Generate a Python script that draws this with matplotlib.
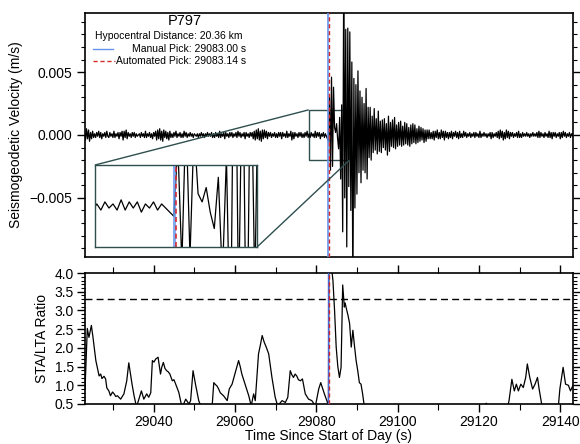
import numpy as np
import matplotlib
matplotlib.use('Agg')
import matplotlib.pyplot as plt
from matplotlib.ticker import MultipleLocator, FuncFormatter
from mpl_toolkits.axes_grid1.inset_locator import mark_inset

plt.rcParams['font.family'] = ['Liberation Sans', 'DejaVu Sans']

station = 'P797'
hypo_dist_km = 20.36
manual_pick = 29083.00
auto_pick = 29083.14
threshold = 3.3

# velocity trace, sampled every 0.25 s from t0, values in 1e-4 m/s
t0 = 29023.0
dt = 0.25
vel_pre = [
    3, -4, 5, -3, 4, -5, 2, -3, 3, -2, 1, -2, 2, -1, 3, -2, 2, -3, 1, -1, 2, -2, 3, -1,
    -2, 2, -1, 1, -2, 3, -2, 1, -1, 2, -3, 2, -1, 3, -4, 3, -2, 4, -3, 2, -1, 1, -2, 2,
    -1, 2, -2, 1, -1, 0, 1, -2, 2, -1, 1, -2, 3, -2, 1, -1, 2, -2, 1, -3, 2, -1, 3, -4,
    4, -3, 5, -4, 3, -5, 4, -2, 3, -3, 2, -4, 3, -2, 1, -2, 2, -1, 3, -2, 1, -1, 2, -2,
    1, -2, 3, -1, 2, -2, 1, -1, 2, -1, 1, -2, 1, 0, -1, 1, -2, 1, -1, 2, -1, 1, -2, 1,
    -1, 2, -1, 1, -1, 2, -2, 1, -2, 2, -1, 1, -2, 3, -2, 1, -1, 2, -3, 2, -1, 1, -2, 2,
    -1, 2, -2, 1, -1, 2, -2, 3, -1, 2, -2, 1, -1, 2, -3, 2, -1, 1, -2, 2, -1, 2, -3, 3,
    -4, 4, -3, 5, -4, 3, -5, 4, -3, 4, -2, 3, -3, 2, -1, 2, -2, 1, -1, 2, -2, 1, -2, 2,
    -1, 2, -3, 2, -1, 1, -2, 3, -2, 1, -1, 3, -4, 2, -3, 2, -1, 1, -2, 2, -1, 2, -2, 1,
    -2, 2, -1, 3, -2, 1, -2, 2, -1, 1, -2, 3, -2, 2, -1, 2, -3, 1, -1, 2, -2, 1, -1, -3,
]
vel_post = [
    -5, 30, -28, 46, -25, 38, 6, 2, 9, -3, -11, 14, -35, 24, -77, 130, -50, 84, -89, 85, -41, 82, -60, 58,
    -130, 45, -58, 40, -47, 51, -30, 35, -38, 30, -28, 25, -30, 37, -35, 22, -18, 22, -20, 15, -14, 21, -12, 13,
    -15, 19, -13, 11, -14, 12, -10, 13, -12, 9, -16, 15, -13, 10, -9, 12, -10, 14, -11, 8, -9, 10, -8, 11,
    -9, 7, -8, 10, -7, 9, -8, 6, -9, 8, -7, 9, -6, 8, -7, 5, -6, 7, -5, 6, -4, 5, -6, 4,
    -5, 4, -3, 4, -3, 2, -3, 3, -4, 3, -2, 4, -3, 2, -3, 4, -2, 3, -4, 3, -2, 2, -3, 2,
    -2, 3, -3, 2, -1, 3, -2, 2, -3, 3, -2, 1, -2, 3, -1, 2, -2, 1, -1, 2, -2, 1, -1, 2,
    -2, 2, -1, 1, -2, 3, -2, 1, -1, 2, -1, 1, -2, 1, -1, 2, -3, 2, -2, 1, -1, 2, -2, 3,
    -3, 4, -2, 3, -4, 2, -3, 4, -2, 3, -3, 2, -1, 2, -2, 1, -1, 2, -2, 3, -2, 1, -2, 2,
    -1, 1, -1, 2, -1, 1, -2, 1, -1, 2, -1, 1, -1, 2, -2, 3, -2, 2, -1, 1, -2, 2, -1, 1,
    -2, 3, -2, 2, -3, 2, -1, 2, -2, 1, -1, 2, -3, 2, -2, 3, -1, 2, -2, 1, -1, 2, -2, 1, -1, 2,
]

# STA/LTA ratio
sta_t = [29023.14, 29023.39, 29023.7, 29024.1, 29024.7, 29025.1, 29025.8, 29026.6, 29027.0,
         29027.3, 29027.8, 29028.2, 29028.5, 29029.0, 29029.4, 29029.9, 29030.3, 29030.7,
         29031.1, 29031.9, 29032.3, 29032.7, 29033.4, 29033.9, 29034.7, 29035.2, 29035.8,
         29036.4, 29037.0, 29037.6, 29038.3, 29038.8, 29039.3, 29039.7, 29040.1, 29040.5,
         29041.1, 29041.7, 29042.0, 29042.4, 29042.8, 29043.2, 29043.6, 29044.0, 29044.6,
         29045.0, 29045.4, 29046.2, 29047.0, 29047.9, 29048.7, 29049.1, 29049.7, 29050.3,
         29051.1, 29051.6, 29052.5, 29053.5, 29054.4, 29054.8, 29055.2, 29055.6, 29056.0,
         29056.4, 29057.2, 29058.1, 29058.6, 29059.3, 29060.1, 29060.9, 29061.3, 29061.7,
         29062.6, 29063.4, 29064.0, 29064.6, 29065.0, 29065.8, 29066.3, 29066.7, 29067.2,
         29067.7, 29068.3, 29069.1, 29069.9, 29070.5, 29071.6, 29072.4, 29073.0, 29073.6,
         29074.0, 29074.4, 29074.8, 29075.2, 29075.6, 29076.1, 29076.6, 29077.3, 29078.1,
         29078.9, 29079.8, 29080.6, 29081.1, 29082.0, 29082.6, 29083.0, 29083.1, 29083.4,
         29083.7, 29084.1, 29084.5, 29084.9, 29085.3, 29085.7, 29086.1, 29086.5, 29086.9,
         29087.1, 29087.4, 29087.8, 29088.2, 29088.6, 29089.0, 29089.4, 29089.8, 29090.2,
         29090.6, 29091.0, 29091.4, 29091.8, 29093.0, 29110.0, 29121.4, 29121.8, 29122.2,
         29126.8, 29127.4, 29128.1, 29128.7, 29129.2, 29129.7, 29130.3, 29130.9, 29131.5,
         29131.9, 29132.5, 29133.2, 29133.8, 29134.4, 29134.8, 29135.5, 29137.0, 29139.5,
         29139.9, 29140.7, 29141.3, 29142.0, 29142.5, 29143.14]
sta_v = [0.90, 1.60, 2.52, 2.28, 2.60, 2.28, 1.66, 1.25, 1.30,
         1.18, 1.24, 1.17, 0.93, 0.85, 0.72, 0.82, 0.77, 0.70,
         0.72, 0.63, 0.70, 0.77, 1.12, 1.60, 1.03, 0.72, 0.42,
         0.63, 0.85, 0.63, 0.77, 0.68, 0.80, 1.66, 1.62, 1.70,
         1.75, 1.30, 1.48, 1.61, 1.45, 1.39, 1.36, 1.30, 1.12,
         1.15, 1.04, 0.81, 0.40, 0.63, 0.50, 0.59, 1.39, 1.03,
         0.59, 0.45, 0.30, 0.30, 0.45, 1.07, 1.02, 0.98, 0.90,
         0.80, 0.72, 0.59, 0.90, 1.03, 1.34, 1.66, 1.50, 1.30,
         0.99, 0.72, 0.45, 0.77, 0.59, 1.84, 2.10, 2.33, 2.15,
         2.02, 1.84, 1.21, 0.68, 0.45, 0.59, 0.54, 0.68, 1.39,
         1.28, 1.21, 1.30, 1.25, 1.15, 1.12, 1.17, 0.77, 0.63,
         0.59, 0.45, 0.90, 1.07, 0.77, 0.59, 0.45, 4.30, 4.40,
         4.20, 3.80, 3.00, 2.02, 1.50, 1.21, 1.48, 3.68, 3.09,
         3.20, 3.05, 2.87, 2.65, 2.02, 2.47, 2.05, 1.66, 1.39,
         1.07, 1.03, 0.77, 0.45, 0.30, 0.30, 0.46, 0.52, 0.46,
         0.30, 0.59, 1.16, 0.85, 1.03, 0.85, 1.03, 0.94, 1.21,
         1.57, 1.21, 0.90, 1.03, 1.21, 0.90, 0.45, 0.30, 0.40,
         0.90, 1.48, 1.03, 1.00, 0.85, 1.00]

vel = np.array(vel_pre + vel_post) * 1e-4
t = t0 + dt * np.arange(len(vel))

manual_color = 'cornflowerblue'
auto_color = '#d42a2a'
box_color = 'darkslategray'
xlim = (auto_pick - 60, auto_pick + 60)

fig = plt.figure(figsize=(5.8, 4.44), dpi=100)
ax1 = fig.add_axes([0.1466, 0.4212, 0.8414, 0.5495])
ax2 = fig.add_axes([0.1466, 0.0901, 0.8414, 0.295])

# top panel: waveform
ax1.plot(t, vel, color='k', lw=0.9)
ax1.axvline(manual_pick, color=manual_color, lw=1.2, zorder=3)
ax1.axvline(auto_pick, color=auto_color, lw=1.0, ls=(0, (3, 2)), zorder=4)
ax1.set_xlim(xlim)
ax1.set_ylim(-0.0097, 0.0097)
ax1.set_ylabel('Seismogeodetic Velocity (m/s)', fontsize=10)
ax1.yaxis.set_major_locator(MultipleLocator(0.005))
ax1.yaxis.set_minor_locator(MultipleLocator(0.001))
ax1.yaxis.set_major_formatter(FuncFormatter(lambda v, p: f'{v:.3f}'.replace('-', '\u2212')))
ax1.tick_params(axis='x', which='both', bottom=False, top=False, labelbottom=False)
ax1.tick_params(axis='y', which='both', direction='out', left=True, right=True,
                labelsize=10)
ax1.tick_params(axis='y', which='major', length=6, width=1)
ax1.tick_params(axis='y', which='minor', length=3, width=0.8)

ax1.text(0.205, 0.967, station, transform=ax1.transAxes, ha='center', va='center',
         fontsize=10.5)
ax1.text(0.172, 0.906, f'Hypocentral Distance: {hypo_dist_km:.2f} km',
         transform=ax1.transAxes, ha='center', va='center', fontsize=7.5)
ax1.text(0.33, 0.852, f'Manual Pick: {manual_pick:.2f} s', transform=ax1.transAxes,
         ha='right', va='center', fontsize=7.5)
ax1.text(0.33, 0.803, f'Automated Pick: {auto_pick:.2f} s', transform=ax1.transAxes,
         ha='right', va='center', fontsize=7.5)
ax1.plot([0.016, 0.057], [0.852, 0.852], transform=ax1.transAxes, color=manual_color,
         lw=1.0)
ax1.plot([0.016, 0.061], [0.803, 0.803], transform=ax1.transAxes, color=auto_color,
         lw=1.0, ls=(0, (3, 2)))

# zoom inset around the pick
axins = ax1.inset_axes([0.0205, 0.041, 0.332, 0.336])
axins.plot(t, vel, color='k', lw=0.9)
axins.axvline(manual_pick, color=manual_color, lw=2.2, alpha=0.8)
axins.axvline(auto_pick, color=auto_color, lw=1.2, ls=(0, (3, 2)))
axins.set_xlim(auto_pick - 5, auto_pick + 5)
axins.set_ylim(-0.002, 0.002)
axins.set_xticks([])
axins.set_yticks([])
for s in axins.spines.values():
    s.set_edgecolor(box_color)
    s.set_linewidth(1.0)
mark_inset(ax1, axins, loc1=2, loc2=4, fc='none', ec=box_color, lw=1.0)

# bottom panel: STA/LTA
ax2.plot(sta_t, sta_v, color='k', lw=0.9)
ax2.axhline(threshold, color='k', lw=1.0, ls=(0, (5, 3)))
ax2.axvline(manual_pick, color='royalblue', lw=1.0, zorder=3)
ax2.axvline(auto_pick, color=auto_color, lw=1.0, ls=(0, (3, 2)), zorder=4)
ax2.set_xlim(xlim)
ax2.set_ylim(0.5, 4.0)
ax2.set_ylabel('STA/LTA Ratio', fontsize=10)
ax2.xaxis.set_major_locator(MultipleLocator(20))
ax2.xaxis.set_minor_locator(MultipleLocator(10))
ax2.xaxis.set_major_formatter(FuncFormatter(lambda v, p: f'{v:.0f}'))
ax2.yaxis.set_major_locator(MultipleLocator(0.5))
ax2.yaxis.set_minor_locator(MultipleLocator(0.1))
ax2.yaxis.set_major_formatter(FuncFormatter(lambda v, p: f'{v:.1f}'))
ax2.tick_params(which='both', direction='out', top=True, right=True, labelsize=10,
                pad=2)
ax2.tick_params(which='major', length=6, width=1)
ax2.tick_params(which='minor', length=3, width=0.8)
ax2.tick_params(axis='x', which='minor', length=4)
fig.text(0.567, 1 - 436 / 444, 'Time Since Start of Day (s)', ha='center',
         va='center', fontsize=10)

for a in (ax1, ax2):
    for s in a.spines.values():
        s.set_linewidth(1.2)

fig.savefig('out.png', dpi=100)
